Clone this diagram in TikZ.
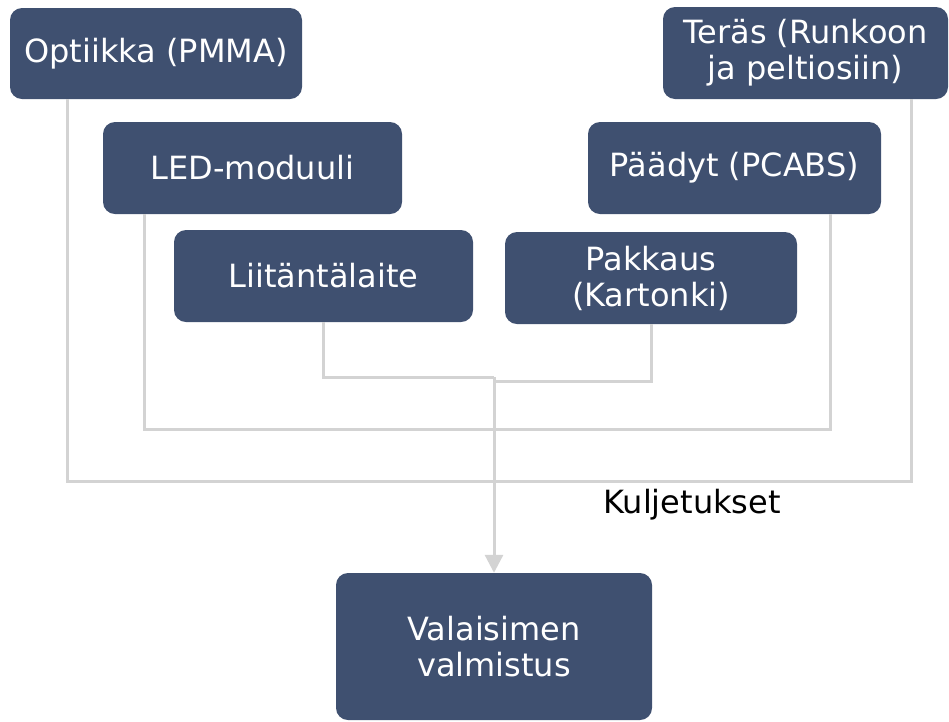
\documentclass[tikz,border=0pt]{standalone}
\usepackage{fontspec}
\setmainfont{DejaVu Sans}
\usetikzlibrary{arrows.meta}
\definecolor{boxblue}{HTML}{3F5070}
\definecolor{linegray}{HTML}{D3D3D3}
\begin{document}
\begin{tikzpicture}[x=1pt,y=-1pt,
  box/.style={draw=none, fill=boxblue, rounded corners=12pt, text=white,
    align=center, inner sep=0pt, font=\fontsize{32pt}{36pt}\selectfont},
  conn/.style={draw=linegray, line width=3pt},
  lbl/.style={font=\fontsize{32pt}{36pt}\selectfont, text=black, inner sep=0pt}]
\useasboundingbox (0,0) rectangle (949,721);

% source boxes
\node[box, minimum width=292pt, minimum height=91pt] (opt) at (156,53.5) {Optiikka (PMMA)};
\node[box, minimum width=285pt, minimum height=92pt] (ter) at (805.5,53) {Teräs (Runkoon\\ja peltiosiin)};
\node[box, minimum width=299pt, minimum height=92pt] (led) at (252.5,168) {LED-moduuli};
\node[box, minimum width=293pt, minimum height=92pt] (paa) at (734.5,168) {Päädyt (PCABS)};
\node[box, minimum width=299pt, minimum height=92pt] (lii) at (323.5,276) {Liitäntälaite};
\node[box, minimum width=292pt, minimum height=92pt] (pak) at (651,278) {Pakkaus\\(Kartonki)};

% target box
\node[box, minimum width=316pt, minimum height=147pt] (val) at (494,646.5) {Valaisimen\\valmistus};

% bus levels
\coordinate (busA) at (494,481);
\coordinate (busB) at (494,429);
\coordinate (j1) at (494,377);
\coordinate (j2) at (494,381);

% outer bus
\draw[conn] ([xshift=58pt]opt.south west) |- (busA) -| ([xshift=-37pt]ter.south east);
% middle bus
\draw[conn] ([xshift=42pt]led.south west) |- (busB) -| ([xshift=-51pt]paa.south east);
% inner feeds
\draw[conn] (lii.south) |- (j1);
\draw[conn] (pak.south) |- (j2);
% trunk to assembly
\draw[conn, -{Triangle[length=18pt,width=18pt]}] (j1) -- (val.north);

\node[lbl] (kul) at (692,505) {Kuljetukset};
\end{tikzpicture}
\end{document}
